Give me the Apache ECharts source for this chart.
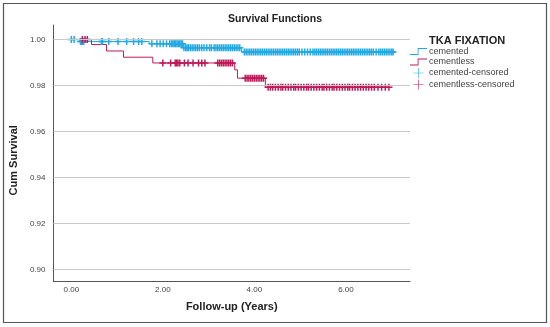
<!DOCTYPE html>
<html><head><meta charset="utf-8">
<script src="https://cdn.jsdelivr.net/npm/echarts@6/dist/echarts.min.js"></script>
<style>html,body{margin:0;padding:0;background:#fff}#c{width:550px;height:327px}</style>
</head><body><div id="c"></div>
<script>
// Kaplan-Meier step data (years, cumulative survival)
const cementedTimes = [0, 0.20, 1.70, 2.44, 3.72, 7.04];
const cementedSurv  = [1.0, 0.9991, 0.9981, 0.9964, 0.9946, 0.9946];
const cementlessTimes = [0, 0.44, 0.77, 1.14, 1.78, 3.57, 3.63, 4.24, 6.96];
const cementlessSurv  = [1.0, 0.9978, 0.9950, 0.9923, 0.9898, 0.9868, 0.9832, 0.9792, 0.9792];
// censored times (years)
const cementedCensored = [0.0, 0.06, 0.20, 0.22, 0.25, 0.27, 0.66, 0.68, 0.82, 1.02, 1.21, 1.36, 1.47, 1.54, 1.76, 1.87, 1.94, 2.01, 2.08, 2.15, 2.19, 2.22, 2.25, 2.28, 2.31, 2.34, 2.37, 2.40, 2.43,
 2.46, 2.50, 2.53, 2.56, 2.60, 2.64, 2.68, 2.72, 2.76, 2.80, 2.85, 2.90, 2.96, 3.02, 3.06, 3.12, 3.16, 3.20, 3.24, 3.28, 3.32, 3.36, 3.40, 3.44, 3.48, 3.52, 3.56, 3.60, 3.64, 3.68,
 3.78, 3.82, 3.86, 3.90, 3.94, 3.98, 4.02, 4.06, 4.10, 4.14, 4.18, 4.22, 4.26, 4.30, 4.34, 4.38, 4.42, 4.46, 4.50, 4.54, 4.58, 4.62, 4.66, 4.70, 4.74, 4.78, 4.82, 4.86, 4.90, 4.94, 4.98,
 5.04, 5.10, 5.16, 5.22, 5.28, 5.32, 5.36, 5.40, 5.44, 5.48, 5.52, 5.56, 5.60, 5.64, 5.68, 5.72, 5.76, 5.80, 5.84, 5.88, 5.92, 5.96, 6.00, 6.04, 6.08, 6.12, 6.16, 6.20, 6.24, 6.28,
 6.32, 6.36, 6.40, 6.44, 6.48, 6.52, 6.56, 6.60, 6.66, 6.72, 6.76, 6.80, 6.84, 6.88, 6.92, 6.96, 7.00, 7.03];
const cementlessCensored = [0.24, 0.30, 0.35,
 2.00, 2.17, 2.27, 2.30, 2.33, 2.37, 2.47, 2.55, 2.66, 2.78, 2.85, 2.92, 3.20, 3.24, 3.28, 3.32, 3.36, 3.40, 3.44, 3.48, 3.52,
 3.80, 3.84, 3.88, 3.92, 3.96, 4.00, 4.04, 4.08, 4.12, 4.16, 4.20,
 4.30, 4.35, 4.40, 4.46, 4.52, 4.58, 4.62, 4.68, 4.74, 4.80, 4.86, 4.90, 4.96, 5.02, 5.08, 5.14, 5.18, 5.24, 5.30, 5.36, 5.42, 5.48, 5.52, 5.58, 5.64, 5.70, 5.74, 5.80, 5.86,
 5.92, 5.98, 6.04, 6.08, 6.14, 6.20, 6.26, 6.32, 6.38, 6.44, 6.50, 6.56, 6.62, 6.70, 6.78, 6.86, 6.94];
const xTicks = [0, 2, 4, 6];
const yTicks = [0.90, 0.92, 0.94, 0.96, 0.98, 1.00];

const BLUE = '#22A9E2', RED = '#BE1A5A';
function stepAt(times, surv, t) { let v = surv[0]; for (let i = 0; i < times.length; i++) if (times[i] <= t) v = surv[i]; return v; }
const pairs = (ts, vs) => ts.map((t, i) => [t, vs[i]]);
const cens = (c, ts, vs) => c.map(t => [t, stepAt(ts, vs, t)]);
const CROSS = 'path://M5.5,0H8.5V5.5H14V8.5H8.5V14H5.5V8.5H0V5.5H5.5Z';
const STEP = 'path://M0,8H9V1H20V2H10V9H0Z';
const LCROSS = 'path://M9.4,0H10.6V9.4H20V10.6H10.6V20H9.4V10.6H0V9.4H9.4Z';
const FONT = 'Liberation Sans';

const chart = echarts.init(document.getElementById('c'), null, {renderer: 'canvas'});
chart.setOption({
  animation: false,
  textStyle: {fontFamily: FONT},
  title: [
    {text: 'Survival Functions', left: 'center', top: 9, textStyle: {fontSize: 10.5, fontWeight: 'bold', color: '#222', fontFamily: FONT}},
    {text: 'TKA FIXATION', left: 424, top: 30, textStyle: {fontSize: 11, fontWeight: 'bold', color: '#222', fontFamily: FONT}}
  ],
  graphic: [{type: 'rect', shape: {x: 3.5, y: 3.5, width: 543, height: 319}, style: {fill: 'none', stroke: '#555', lineWidth: 1.2}, silent: true}],
  legend: {
    orient: 'vertical', left: 410, top: 47, itemWidth: 17, itemHeight: 10, itemGap: 1.5, padding: 0,
    textStyle: {fontSize: 9, color: '#444', fontFamily: FONT, padding: [0, 0, 0, -3]},
    data: [
      {name: 'cemented', icon: STEP, itemStyle: {color: BLUE}},
      {name: 'cementless', icon: STEP, itemStyle: {color: RED}},
      {name: 'cemented-censored', icon: LCROSS, itemStyle: {color: BLUE}},
      {name: 'cementless-censored', icon: LCROSS, itemStyle: {color: RED}}
    ]
  },
  grid: {left: 51, right: 140, top: 25, bottom: 45.5},
  xAxis: {
    type: 'value', min: -0.39, max: 7.40,
    name: 'Follow-up (Years)', nameLocation: 'middle', nameGap: 20,
    nameTextStyle: {fontSize: 11, fontWeight: 'bold', color: '#222', fontFamily: FONT},
    axisLine: {onZero: false, lineStyle: {color: '#555', width: 1}},
    axisTick: {show: false},
    splitLine: {show: false},
    axisLabel: {customValues: xTicks, formatter: v => v.toFixed(2), fontSize: 8, color: '#444', margin: 4}
  },
  yAxis: {
    type: 'value', min: 0.8948, max: 1.0063,
    name: 'Cum Survival', nameLocation: 'middle', nameGap: 30,
    nameTextStyle: {fontSize: 11, fontWeight: 'bold', color: '#222', fontFamily: FONT, padding: [0, 14, 0, 0]},
    axisLine: {show: true, onZero: false, lineStyle: {color: '#555', width: 1}},
    axisTick: {show: false},
    splitLine: {show: false},
    axisLabel: {customValues: yTicks, formatter: v => v.toFixed(2), fontSize: 8, color: '#444', margin: 8}
  },
  series: [
    {name: 'gridlines', type: 'line', data: [], silent: true,
     markLine: {silent: true, symbol: 'none', label: {show: false}, lineStyle: {color: '#c8c8c8', width: 1, type: 'solid'},
       data: yTicks.map(v => ({yAxis: v}))}},
    {name: 'cemented', type: 'line', step: 'end', data: pairs(cementedTimes, cementedSurv), showSymbol: false, symbol: 'none',
     lineStyle: {color: BLUE, width: 1}, itemStyle: {color: BLUE}, z: 3},
    {name: 'cementless', type: 'line', step: 'end', data: pairs(cementlessTimes, cementlessSurv), showSymbol: false, symbol: 'none',
     lineStyle: {color: RED, width: 1}, itemStyle: {color: RED}, z: 3},
    {name: 'cemented-censored', type: 'scatter', data: cens(cementedCensored, cementedTimes, cementedSurv), symbol: CROSS, symbolSize: 7,
     itemStyle: {color: BLUE, opacity: 1}, z: 4},
    {name: 'cementless-censored', type: 'scatter', data: cens(cementlessCensored, cementlessTimes, cementlessSurv), symbol: CROSS, symbolSize: 7,
     itemStyle: {color: RED, opacity: 1}, z: 4}
  ]
});
</script></body></html>
